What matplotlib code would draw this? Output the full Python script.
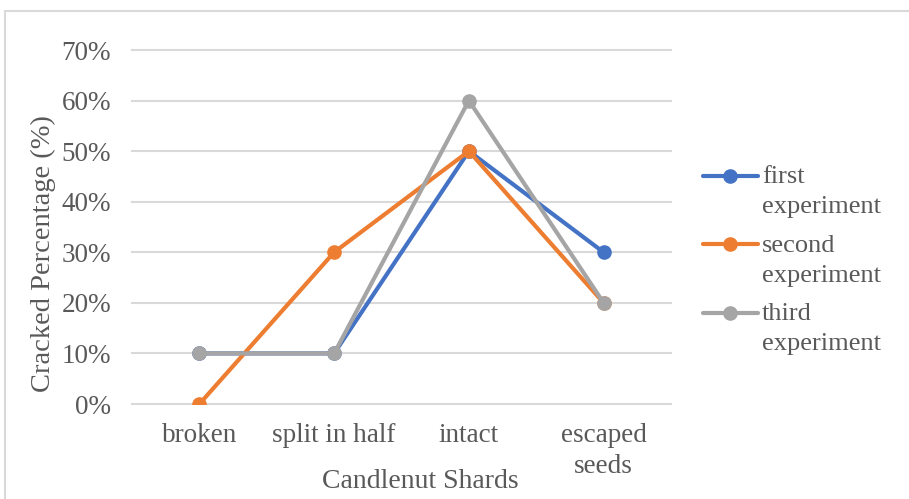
import matplotlib.pyplot as plt
from matplotlib.lines import Line2D
from matplotlib.patches import Rectangle
import numpy as np

# categories and series
categories = ['broken', 'split in half', 'intact', 'escaped\nseeds']
first = [0.10, 0.10, 0.50, 0.30]
second = [0.00, 0.30, 0.50, 0.20]
third = [0.10, 0.10, 0.60, 0.20]
series_names = [('first', 'experiment'), ('second', 'experiment'), ('third', 'experiment')]
yticks = [0.0, 0.1, 0.2, 0.3, 0.4, 0.5, 0.6, 0.7]

colors = ['#4472C4', '#ED7D31', '#A5A5A5']
text_color = '#595959'
grid_color = '#D9D9D9'

plt.rcParams['font.family'] = ['Liberation Serif', 'DejaVu Serif']

W, H = 909, 499
fig = plt.figure(figsize=(W / 100, H / 100), dpi=100)

# light border at the top and left of the chart area
fig.add_artist(Rectangle((5 / W, -0.1), 1.2, (H - 11) / H + 0.1, transform=fig.transFigure,
                         fill=False, edgecolor=grid_color, linewidth=1.5))

ax = fig.add_axes([132 / W, (H - 404) / H, (671 - 132) / W, (404 - 50) / H])
x = np.arange(len(categories))

for vals, name, c in zip([first, second, third], series_names, colors):
    ax.plot(x, vals, color=c, linewidth=3, marker='o', markersize=9.5,
            solid_capstyle='round', label=' '.join(name), zorder=3)

ax.set_xlim(-0.5, len(categories) - 0.5)
ax.set_ylim(0, 0.7)
ax.set_yticks(yticks)
ax.set_yticklabels([f'{int(round(v * 100))}%' for v in yticks])
ax.set_xticks(x)
ax.set_xticklabels(categories, linespacing=1.3)
for s in ax.spines.values():
    s.set_visible(False)
ax.yaxis.grid(True, color=grid_color, linewidth=1.5)
ax.set_axisbelow(True)
ax.tick_params(axis='both', length=0, colors=text_color, labelsize=19.5)
ax.tick_params(axis='y', pad=15)
ax.tick_params(axis='x', pad=14)
for gl in ax.get_ygridlines():
    gl.set_clip_on(False)

ax.set_xlabel('Candlenut Shards', fontsize=20, color=text_color)
ax.xaxis.set_label_coords((420 - 132) / 539, (404 - 469) / 354)
ax.set_ylabel('Cracked Percentage (%)', fontsize=20.5, color=text_color)
ax.yaxis.set_label_coords((56 - 132) / 539, (404 - 254) / 354)

# legend drawn like the spreadsheet one: handle beside the first text line
handle_y = [176, 244, 313]
base_y = [183, 252, 320]
for (l1, l2), c, hy, by in zip(series_names, colors, handle_y, base_y):
    yf = 1 - hy / H
    fig.add_artist(Line2D([703 / W, 758 / W], [yf, yf], transform=fig.transFigure,
                          color=c, linewidth=3, solid_capstyle='round'))
    fig.add_artist(Line2D([730 / W], [yf], transform=fig.transFigure,
                          color=c, marker='o', markersize=9.5))
    fig.text(762 / W, 1 - by / H, l1, fontsize=19, color=text_color,
             va='baseline', ha='left')
    fig.text(762 / W, 1 - (by + 30) / H, l2, fontsize=19, color=text_color,
             va='baseline', ha='left')

fig.savefig('out.png', dpi=100)
